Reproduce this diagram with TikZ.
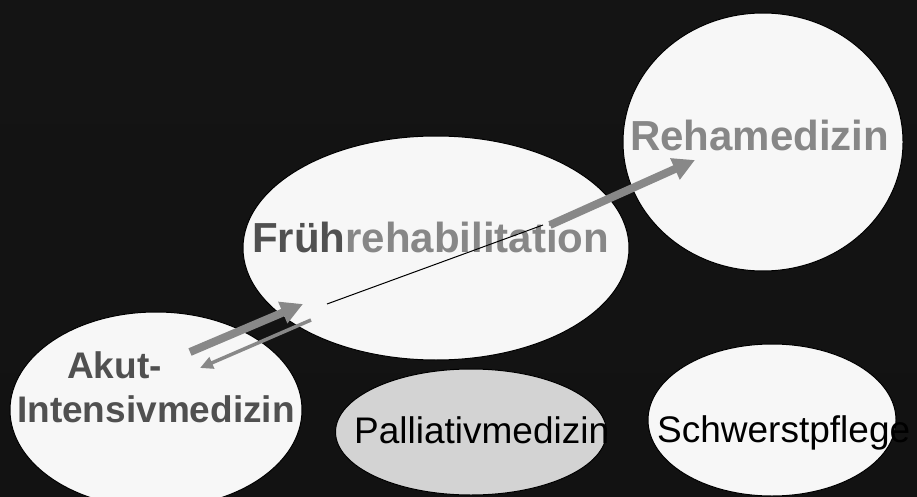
\documentclass[tikz,border=0pt]{standalone}
\usepackage{fontspec}
\setmainfont{Liberation Sans}
\usetikzlibrary{shapes.geometric,arrows.meta}
\definecolor{bgtop}{HTML}{141414}
\definecolor{bgmid}{HTML}{1A1A1A}
\definecolor{bgbot}{HTML}{121212}
\definecolor{blobfill}{HTML}{F7F7F7}
\definecolor{pallfill}{HTML}{D3D3D3}
\definecolor{txtgray}{HTML}{878787}
\definecolor{txtdark}{HTML}{505050}
\definecolor{arrgray}{HTML}{888888}

\tikzset{
  blob/.style={ellipse,draw=black,line width=1pt,fill=blobfill,inner sep=0pt},
  bigtxt/.style={inner sep=0pt,anchor=base west,font=\bfseries\fontsize{42}{48}\selectfont},
  midtxt/.style={inner sep=0pt,anchor=base west,font=\bfseries\fontsize{37}{44}\selectfont,text=txtdark},
  plaintxt/.style={inner sep=0pt,anchor=base west,font=\fontsize{37}{44}\selectfont,text=black},
  fatarrow/.style={-{Triangle[length=22pt,width=22pt]},line width=8pt,draw=arrgray},
  thinarrow/.style={-{Triangle[length=13pt,width=12pt]},line width=3.5pt,draw=arrgray}
}

\begin{document}
\begin{tikzpicture}[x=1pt,y=-1pt]
\useasboundingbox (0,0) rectangle (917,497);
\clip (0,0) rectangle (917,497);
\shade[top color=bgtop,middle color=bgmid,bottom color=bgbot] (0,0) rectangle (917,497);

% ellipses
\node[blob,minimum width=280pt,minimum height=258pt] (reha) at (763,142) {};
\node[blob,minimum width=386pt,minimum height=224pt] (frueh) at (436,248) {};
\node[blob,minimum width=292pt,minimum height=196pt] (akut) at (156,410) {};
\node[blob,fill=pallfill,minimum width=271pt,minimum height=126pt] (pall) at (471,432) {};
\node[blob,minimum width=248pt,minimum height=152pt] (schwer) at (772,420) {};

% labels
\node[bigtxt,text=txtgray] (rehaTxt) at (630,150) {Rehamedizin};
\node[bigtxt,text=txtgray] (fruehTxt) at (252,252) {{\color{txtdark}Früh}rehabilitation};
\node[midtxt] (akutTxtA) at (67,378) {Akut-};
\node[midtxt] (akutTxtB) at (17,422) {Intensivmedizin};
\node[plaintxt] (pallTxt) at (354,443) {Palliativmedizin};
\node[plaintxt] (schwerTxt) at (657,442) {Schwerstpflege};

% arrow ends
\coordinate (akutOut) at (190,352);
\coordinate (fruehIn) at (303,304);
\coordinate (fruehBack) at (311,320);
\coordinate (akutIn) at (200,368);
\coordinate (lineS) at (327,304);
\coordinate (lineE) at (543,225);
\coordinate (rehaOut) at (550,225);
\coordinate (rehaIn) at (695,160);

% connectors
\draw[fatarrow] (akutOut) -- (fruehIn);
\draw[thinarrow] (fruehBack) -- (akutIn);
\draw[line width=1pt,black] (lineS) -- (lineE);
\draw[fatarrow] (rehaOut) -- (rehaIn);
\end{tikzpicture}
\end{document}
